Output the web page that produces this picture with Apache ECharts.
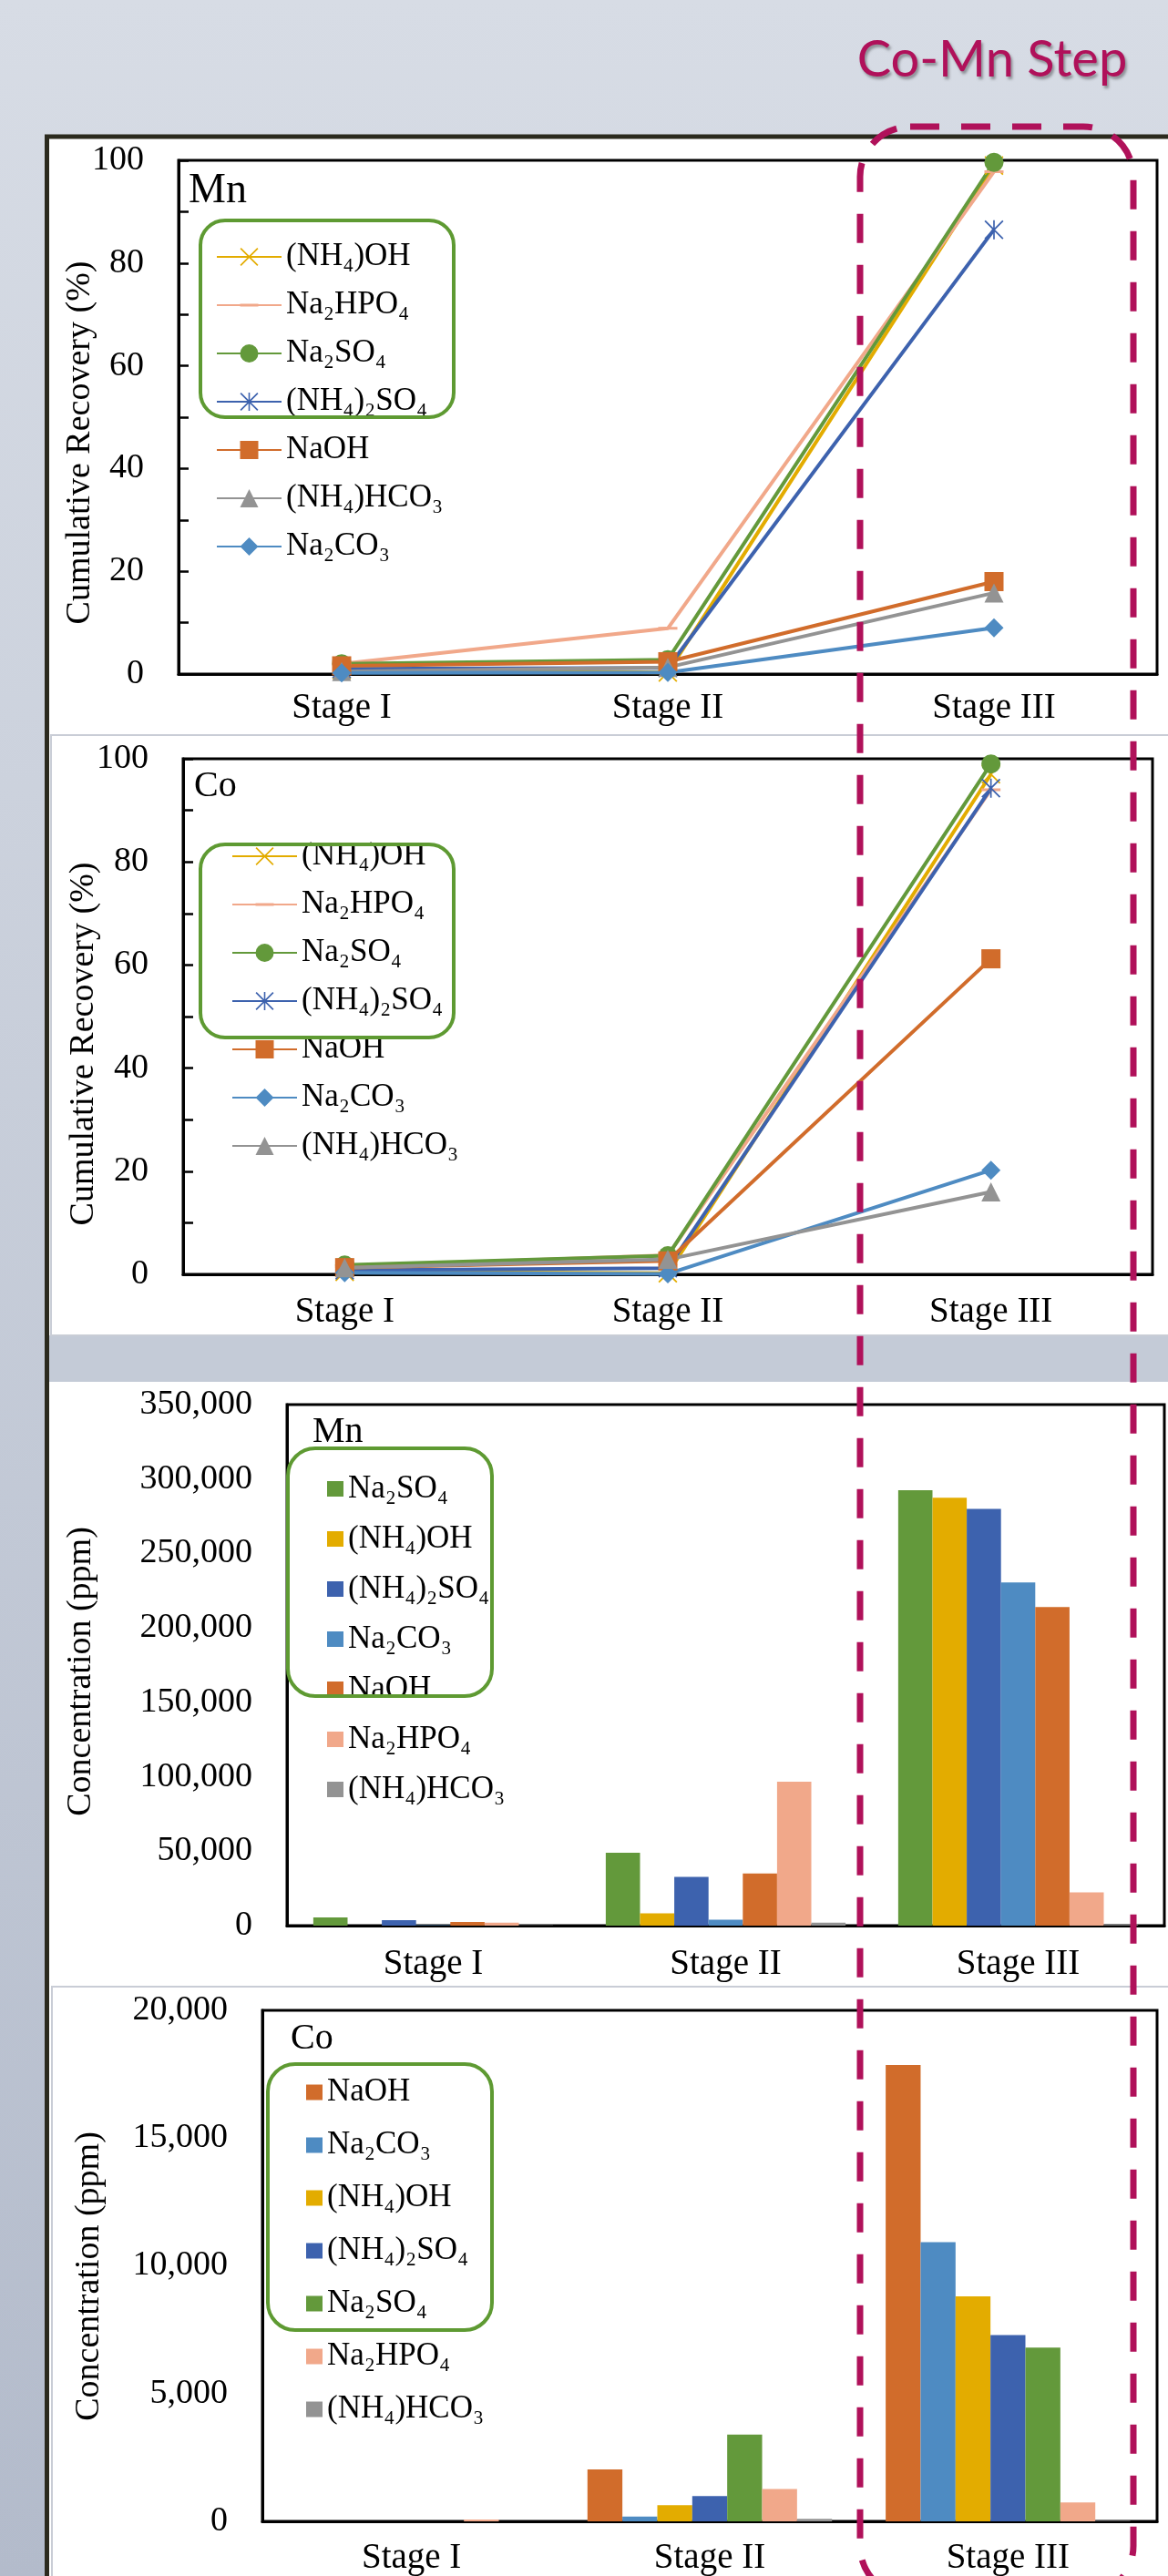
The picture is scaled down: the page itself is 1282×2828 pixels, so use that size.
<!DOCTYPE html>
<html>
<head>
<meta charset="utf-8">
<script src="https://cdn.jsdelivr.net/npm/echarts@6/dist/echarts.min.js"></script>
<style>
html,body{margin:0;padding:0;background:#d6dbe4;}
#c{width:1282px;height:2828px;}
</style>
</head>
<body>
<div id="c"></div>
<script>
// ---------- categories & names ----------
const stages = ['Stage I', 'Stage II', 'Stage III'];
const NH4OH = '(NH₄)OH', NA2HPO4 = 'Na₂HPO₄', NA2SO4 = 'Na₂SO₄', NH42SO4 = '(NH₄)₂SO₄',
      NAOH = 'NaOH', NH4HCO3 = '(NH₄)HCO₃', NA2CO3 = 'Na₂CO₃';

// ---------- Mn cumulative recovery (%) ----------
const mnRecNH4OH   = [0.8, 0.3, 99.0];
const mnRecNa2HPO4 = [2.0, 8.9, 97.8];
const mnRecNa2SO4  = [2.0, 2.8, 99.6];
const mnRecNH42SO4 = [1.0, 1.2, 86.5];
const mnRecNaOH    = [1.6, 2.4, 18.0];
const mnRecNH4HCO3 = [0.5, 1.3, 15.8];
const mnRecNa2CO3  = [0.2, 0.3, 9.0];

// ---------- Co cumulative recovery (%) ----------
const coRecNH4OH   = [0.5, 0.2, 97.0];
const coRecNa2HPO4 = [1.5, 3.7, 94.0];
const coRecNa2SO4  = [1.8, 3.6, 99.0];
const coRecNH42SO4 = [0.8, 1.2, 94.3];
const coRecNaOH    = [1.3, 2.6, 61.2];
const coRecNa2CO3  = [0.3, 0.1, 20.2];
const coRecNH4HCO3 = [1.3, 2.9, 16.0];

// ---------- Mn concentration (ppm) ----------
const mnConcNa2SO4  = [5500, 49000, 292500];
const mnConcNH4OH   = [0, 8300, 287500];
const mnConcNH42SO4 = [3700, 32700, 280000];
const mnConcNa2CO3  = [300, 4000, 230500];
const mnConcNaOH    = [2500, 35000, 214000];
const mnConcNa2HPO4 = [2000, 96700, 22300];
const mnConcNH4HCO3 = [100, 2000, 400];

// ---------- Co concentration (ppm) ----------
const coConcNaOH    = [0, 2030, 17860];
const coConcNa2CO3  = [0, 190, 10930];
const coConcNH4OH   = [0, 630, 8810];
const coConcNH42SO4 = [0, 990, 7290];
const coConcNa2SO4  = [0, 3400, 6800];
const coConcNa2HPO4 = [70, 1270, 740];
const coConcNH4HCO3 = [0, 100, 20];

// ---------- tick values ----------
const recTicks = [0, 20, 40, 60, 80, 100];
const mnConcMax = 350000, mnConcStep = 50000;
const coConcMax = 20000, coConcStep = 5000;

// ---------- styles ----------
const FAM = 'Liberation Serif';
const C = {
  yellow: '#e3ac00', salmon: '#f1a88a', green: '#63993b', blue: '#3d62ae',
  orange: '#d16c2b', gray: '#939393', lblue: '#4e8bc2'
};
// tiny corner anchors keep the path bounding box square
const ANCH = ' M0,0L0.01,0L0,0.01Z M10,10L9.99,10L10,9.99Z';
const X_PATH = 'path://M0,0.6L0.6,0L10,9.4L9.4,10Z M9.4,0L10,0.6L0.6,10L0,9.4Z';
const AST_PATH = X_PATH + ' M4.6,0L5.4,0L5.4,10L4.6,10Z';
const DASH_PATH = 'path://M0,4.3L10,4.3L10,5.7L0,5.7Z' + ANCH;
const SYM = {};
SYM[NH4OH] = X_PATH; SYM[NA2HPO4] = DASH_PATH; SYM[NA2SO4] = 'circle'; SYM[NH42SO4] = AST_PATH;
SYM[NAOH] = 'rect'; SYM[NH4HCO3] = 'triangle'; SYM[NA2CO3] = 'diamond';
const COL = {};
COL[NH4OH] = C.yellow; COL[NA2HPO4] = C.salmon; COL[NA2SO4] = C.green; COL[NH42SO4] = C.blue;
COL[NAOH] = C.orange; COL[NH4HCO3] = C.gray; COL[NA2CO3] = C.lblue;

function lineSeries(name, data, idx) {
  return {
    type: 'line', name: name, data: data, xAxisIndex: idx, yAxisIndex: idx,
    symbol: SYM[name], symbolSize: 21,
    color: COL[name],
    lineStyle: { width: 4, color: COL[name] },
    itemStyle: { color: COL[name] },
    emphasis: { disabled: true }
  };
}
function barSeries(name, data, idx) {
  return {
    type: 'bar', name: name, data: data, xAxisIndex: idx, yAxisIndex: idx,
    barGap: '0%', barCategoryGap: '18%',
    itemStyle: { color: COL[name] },
    emphasis: { disabled: true }
  };
}

const series = [
  lineSeries(NH4OH, mnRecNH4OH, 0),
  lineSeries(NA2HPO4, mnRecNa2HPO4, 0),
  lineSeries(NA2SO4, mnRecNa2SO4, 0),
  lineSeries(NH42SO4, mnRecNH42SO4, 0),
  lineSeries(NAOH, mnRecNaOH, 0),
  lineSeries(NH4HCO3, mnRecNH4HCO3, 0),
  lineSeries(NA2CO3, mnRecNa2CO3, 0),

  lineSeries(NH4OH, coRecNH4OH, 1),
  lineSeries(NA2HPO4, coRecNa2HPO4, 1),
  lineSeries(NA2SO4, coRecNa2SO4, 1),
  lineSeries(NH42SO4, coRecNH42SO4, 1),
  lineSeries(NAOH, coRecNaOH, 1),
  lineSeries(NA2CO3, coRecNa2CO3, 1),
  lineSeries(NH4HCO3, coRecNH4HCO3, 1),

  barSeries(NA2SO4, mnConcNa2SO4, 2),
  barSeries(NH4OH, mnConcNH4OH, 2),
  barSeries(NH42SO4, mnConcNH42SO4, 2),
  barSeries(NA2CO3, mnConcNa2CO3, 2),
  barSeries(NAOH, mnConcNaOH, 2),
  barSeries(NA2HPO4, mnConcNa2HPO4, 2),
  barSeries(NH4HCO3, mnConcNH4HCO3, 2),

  barSeries(NAOH, coConcNaOH, 3),
  barSeries(NA2CO3, coConcNa2CO3, 3),
  barSeries(NH4OH, coConcNH4OH, 3),
  barSeries(NH42SO4, coConcNH42SO4, 3),
  barSeries(NA2SO4, coConcNa2SO4, 3),
  barSeries(NA2HPO4, coConcNa2HPO4, 3),
  barSeries(NH4HCO3, coConcNH4HCO3, 3)
];

const grids = [
  { left: 196, top: 176, width: 1074, height: 564 },
  { left: 201, top: 833, width: 1064, height: 566 },
  { left: 315, top: 1542, width: 963, height: 572 },
  { left: 288, top: 2207, width: 982, height: 571 }
].map(g => Object.assign({ show: true, borderColor: '#000', borderWidth: 3, backgroundColor: 'transparent', containLabel: false }, g));

const xMargins = [18, 22, 23, 21];
const xAxes = [0, 1, 2, 3].map(i => ({
  type: 'category', gridIndex: i, data: stages, boundaryGap: true,
  axisTick: { show: false },
  axisLine: { show: true, lineStyle: { color: '#000', width: 3 } },
  axisLabel: { interval: 0, fontFamily: FAM, fontSize: 39, color: '#000', margin: xMargins[i] }
}));

function recAxis(i) {
  return {
    type: 'value', gridIndex: i, min: 0, max: 100, interval: 10,
    splitLine: { show: false },
    axisLine: { show: true, lineStyle: { color: '#000', width: 3 } },
    axisTick: { show: true, inside: true, length: 11, lineStyle: { color: '#000', width: 2.5 } },
    axisLabel: {
      fontFamily: FAM, fontSize: 38, color: '#000', margin: 38,
      formatter: v => (recTicks.indexOf(v) >= 0 ? String(v) : '')
    }
  };
}
function concAxis(i, max, step) {
  return {
    type: 'value', gridIndex: i, min: 0, max: max, interval: step,
    splitLine: { show: false },
    axisLine: { show: true, lineStyle: { color: '#000', width: 3 } },
    axisTick: { show: false },
    axisLabel: {
      fontFamily: FAM, fontSize: 38, color: '#000', margin: 38,
      formatter: v => v.toLocaleString('en-US')
    }
  };
}
const yAxes = [recAxis(0), recAxis(1), concAxis(2, mnConcMax, mnConcStep), concAxis(3, coConcMax, coConcStep)];

function legend(left, top, gap, data, isBar, fs) {
  const l = {
    orient: 'vertical', left: left, top: top, padding: 0, itemGap: gap,
    selectedMode: false, data: data,
    textStyle: { fontFamily: FAM, fontSize: fs, color: '#000', lineHeight: 36 }
  };
  if (isBar) { l.icon = 'rect'; l.itemWidth = 18; l.itemHeight = 17; }
  else { l.itemWidth = 71; l.itemHeight = 25; }
  return l;
}
const legends = [
  legend(237, 264, 17, [NH4OH, NA2HPO4, NA2SO4, NH42SO4, NAOH, NH4HCO3, NA2CO3], false, 35),
  legend(254, 922, 17, [NH4OH, NA2HPO4, NA2SO4, NH42SO4, NAOH, NA2CO3, NH4HCO3], false, 35),
  legend(359, 1616.5, 19, [NA2SO4, NH4OH, NH42SO4, NA2CO3, NAOH, NA2HPO4, NH4HCO3], true, 35),
  legend(336, 2279, 22, [NAOH, NA2CO3, NH4OH, NH42SO4, NA2SO4, NA2HPO4, NH4HCO3], true, 35)
];

function txt(text, x, y, size) {
  return { type: 'text', x: x, y: y, z: 20,
    style: { text: text, font: size + 'px ' + FAM, fill: '#000', align: 'left', verticalAlign: 'middle' } };
}
function vtitle(text, x, y) {
  return { type: 'text', x: x, y: y, rotation: Math.PI / 2, z: 20,
    style: { text: text, font: '38px ' + FAM, fill: '#000', align: 'center', verticalAlign: 'middle' } };
}
function gbox(x, y, w, h, r) {
  return { type: 'rect', z: 50, shape: { x: x, y: y, width: w, height: h, r: r },
    style: { fill: 'none', stroke: '#5e9a32', lineWidth: 4 } };
}

const graphic = [
  // page background
  { type: 'rect', z: -100, shape: { x: 0, y: 0, width: 1282, height: 2828 },
    style: { fill: { type: 'linear', x: 0, y: 0, x2: 0, y2: 1, colorStops: [
      { offset: 0, color: '#d7dce5' }, { offset: 1, color: '#b3bbcb' }] } } },
  // white slide area
  { type: 'rect', z: -90, shape: { x: 53, y: 152, width: 1240, height: 2700 }, style: { fill: '#ffffff' } },
  // band between line and bar panels
  { type: 'rect', z: -80, shape: { x: 54, y: 1466, width: 1240, height: 51 }, style: { fill: '#c4cbd7' } },
  // light panel borders
  { type: 'rect', z: -80, shape: { x: 56, y: 807, width: 1240, height: 659 }, style: { fill: 'none', stroke: '#c9cdd6', lineWidth: 2 } },
  { type: 'rect', z: -80, shape: { x: 57, y: 2181, width: 1240, height: 700 }, style: { fill: 'none', stroke: '#c9cdd6', lineWidth: 2 } },
  // dark frame
  { type: 'rect', z: -70, shape: { x: 51.5, y: 150, width: 1300, height: 2800 }, style: { fill: 'none', stroke: '#2b2a1e', lineWidth: 5 } },

  // panel titles
  txt('Mn', 207, 210, 46),
  txt('Co', 213, 863, 40),
  txt('Mn', 343, 1572, 40),
  txt('Co', 319, 2238, 40),

  // y axis titles
  vtitle('Cumulative Recovery (%)', 88, 486),
  vtitle('Cumulative Recovery (%)', 92, 1146),
  vtitle('Concentration (ppm)', 89, 1835),
  vtitle('Concentration (ppm)', 98, 2499),

  // green legend highlight boxes
  gbox(220, 242, 278, 216, 27),
  gbox(220, 927, 278, 212, 27),
  gbox(316, 1590, 224, 272, 30),
  gbox(294, 2266, 246, 292, 30),

  // Co-Mn step dashed box
  { type: 'rect', z: 100, shape: { x: 944, y: 139, width: 300, height: 2711, r: 55 },
    style: { fill: 'none', stroke: '#b0115a', lineWidth: 7, lineDash: [32, 24] } },
  // Co-Mn Step label
  { type: 'text', x: 1089, y: 66, z: 100,
    style: { text: 'Co-Mn Step', font: '56px Lato', fill: '#b0115a',
      align: 'center', verticalAlign: 'middle',
      shadowColor: 'rgba(0,0,0,0.35)', shadowBlur: 3, shadowOffsetX: 2, shadowOffsetY: 3,
      textShadowColor: 'rgba(0,0,0,0.35)', textShadowBlur: 3, textShadowOffsetX: 2, textShadowOffsetY: 3 } }
];

const chart = echarts.init(document.getElementById('c'), null, { renderer: 'canvas', width: 1282, height: 2828 });
chart.setOption({
  animation: false,
  backgroundColor: '#d6dbe4',
  textStyle: { fontFamily: FAM },
  grid: grids,
  xAxis: xAxes,
  yAxis: yAxes,
  legend: legends,
  series: series,
  graphic: graphic
});
</script>
</body>
</html>
